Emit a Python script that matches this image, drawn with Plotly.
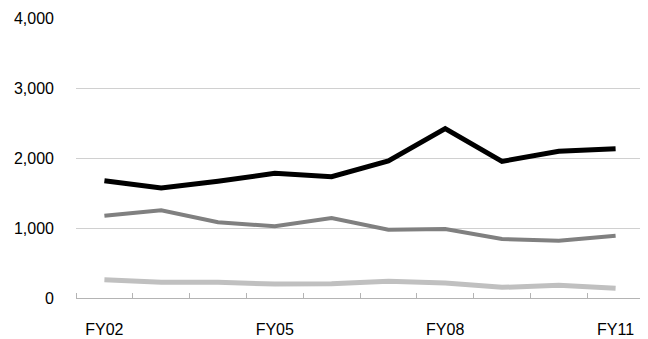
import plotly.graph_objects as go

years = ["FY02", "FY03", "FY04", "FY05", "FY06", "FY07", "FY08", "FY09", "FY10", "FY11"]
series_a = [1676, 1571, 1667, 1781, 1733, 1957, 2419, 1952, 2095, 2133]
series_b = [1176, 1252, 1081, 1024, 1143, 976, 986, 843, 819, 890]
series_c = [262, 224, 224, 200, 205, 238, 214, 152, 181, 138]
label_years = ["FY02", "FY05", "FY08", "FY11"]
y_ticks = [0, 1000, 2000, 3000, 4000]

idx = list(range(len(years)))

fig = go.Figure()
fig.add_trace(go.Scatter(x=idx, y=series_c, mode="lines",
                         line=dict(color="#c0c0c0", width=5), name="C"))
fig.add_trace(go.Scatter(x=idx, y=series_b, mode="lines",
                         line=dict(color="#808080", width=4), name="B"))
fig.add_trace(go.Scatter(x=idx, y=series_a, mode="lines",
                         line=dict(color="#000000", width=5), name="A"))

# page body has an 8px default margin; size the figure to fill the rest
fig.update_layout(
    width=640, height=331,
    margin=dict(l=68, r=4, t=10, b=41),
    paper_bgcolor="white", plot_bgcolor="white",
    showlegend=False,
    font=dict(family="Liberation Sans, Arial, sans-serif", size=16, color="#000000"),
)
fig.update_xaxes(
    range=[-0.5, len(years) - 0.5],
    tickmode="array",
    tickvals=[years.index(y) for y in label_years],
    ticktext=label_years,
    ticks="",
    showgrid=False,
    zeroline=False,
    automargin=False,
    showline=True, linecolor="#b4b4b4", linewidth=1,
    ticklabelstandoff=17,
    minor=dict(tick0=-0.5, dtick=1, ticks="inside", ticklen=5,
               tickcolor="#b4b4b4", tickwidth=1, showgrid=False),
)
fig.update_yaxes(
    range=[0, 4000],
    tickmode="array",
    tickvals=y_ticks,
    ticktext=[f"{v:,}" for v in y_ticks],
    showgrid=True, gridcolor="#d0d0d0", gridwidth=1,
    zeroline=False,
    showline=False,
    automargin=False,
    ticks="",
    ticklabelstandoff=21,
)

fig.write_html("out.html")
